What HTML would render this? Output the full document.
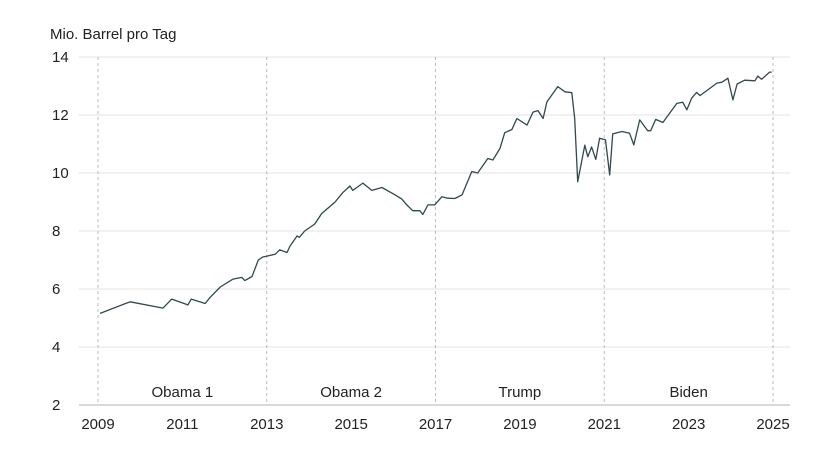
<!DOCTYPE html>
<html><head><meta charset="utf-8"><style>
body{margin:0;background:#fff;}
svg text{font-family:"Liberation Sans",sans-serif;font-size:15px;fill:#222;}
</style></head><body>
<svg id="c" width="840" height="454"></svg>
<script>
const yTicks=[2,4,6,8,10,12,14];
const xTicks=[2009,2011,2013,2015,2017,2019,2021,2023,2025];
const eraBounds=[2009,2013,2017,2021,2025];
const eraLabels=["Obama 1","Obama 2","Trump","Biden"];
const dates=[2009.05,2009.76,2010.54,2010.75,2011.13,2011.21,2011.54,2011.65,2011.9,2012.2,2012.41,2012.48,2012.65,2012.8,2012.9,2013.2,2013.31,2013.48,2013.55,2013.72,2013.77,2013.9,2014.14,2014.3,2014.62,2014.8,2014.97,2015.04,2015.28,2015.49,2015.73,2016.04,2016.2,2016.32,2016.46,2016.63,2016.7,2016.82,2016.98,2017.15,2017.29,2017.46,2017.63,2017.86,2018.0,2018.24,2018.36,2018.53,2018.64,2018.81,2018.93,2019.17,2019.31,2019.43,2019.55,2019.64,2019.9,2020.07,2020.23,2020.3,2020.37,2020.54,2020.61,2020.7,2020.8,2020.89,2021.03,2021.13,2021.2,2021.42,2021.6,2021.7,2021.84,2022.03,2022.1,2022.22,2022.39,2022.72,2022.86,2022.96,2023.07,2023.19,2023.27,2023.67,2023.79,2023.93,2024.05,2024.15,2024.33,2024.57,2024.64,2024.73,2024.92,2024.97];
const values=[5.16,5.56,5.34,5.65,5.45,5.65,5.5,5.7,6.07,6.34,6.4,6.29,6.43,7.0,7.1,7.2,7.35,7.26,7.48,7.83,7.78,8.0,8.24,8.6,9.0,9.32,9.55,9.4,9.65,9.4,9.5,9.25,9.1,8.9,8.7,8.7,8.57,8.9,8.9,9.18,9.13,9.12,9.25,10.05,10.0,10.5,10.45,10.85,11.39,11.5,11.88,11.65,12.1,12.15,11.88,12.45,12.98,12.8,12.77,11.88,9.7,10.96,10.56,10.9,10.47,11.2,11.14,9.93,11.35,11.43,11.37,10.97,11.83,11.46,11.46,11.85,11.74,12.4,12.44,12.18,12.58,12.78,12.67,13.1,13.13,13.27,12.52,13.07,13.2,13.18,13.34,13.23,13.48,13.48];
const NS="http://www.w3.org/2000/svg";
const svg=document.getElementById('c');
const X=v=>98+(v-2009)*(773-98)/16;
const Y=v=>405-(v-2)*(405-57)/12;
function mk(t,a,p){const e=document.createElementNS(NS,t);for(const k in a)e.setAttribute(k,a[k]);(p||svg).appendChild(e);return e;}
let t=mk('text',{x:50,y:39});t.textContent="Mio. Barrel pro Tag";


yTicks.forEach(v=>{
 const l=mk('line',{x1:79,x2:790,y1:Y(v),y2:Y(v),stroke:v===2?'#ccc':'#e3e3e3','stroke-width':v===2?1.5:1});
 
 
 const tx=mk('text',{x:52,y:Y(v)+5});tx.textContent=v;
 
 
});
eraBounds.forEach(v=>{
 const l=mk('line',{x1:X(v),x2:X(v),y1:57,y2:405,stroke:'#bbb','stroke-dasharray':'3,3'});
 
 
});
eraLabels.forEach((s,i)=>{
 const tx=mk('text',{x:(X(eraBounds[i])+X(eraBounds[i+1]))/2,y:397,'text-anchor':'middle'});tx.textContent=s;
 
 
});
xTicks.forEach(v=>{
 const tx=mk('text',{x:X(v),y:429,'text-anchor':'middle'});tx.textContent=v;
 
 
});
const p=mk('path',{d:dates.map((d,i)=>(i?'L':'M')+X(d).toFixed(1)+','+Y(values[i]).toFixed(1)).join(''),fill:'none',stroke:'#2f4a4d','stroke-width':1.3,'stroke-linejoin':'round'});


</script>
</body></html>
